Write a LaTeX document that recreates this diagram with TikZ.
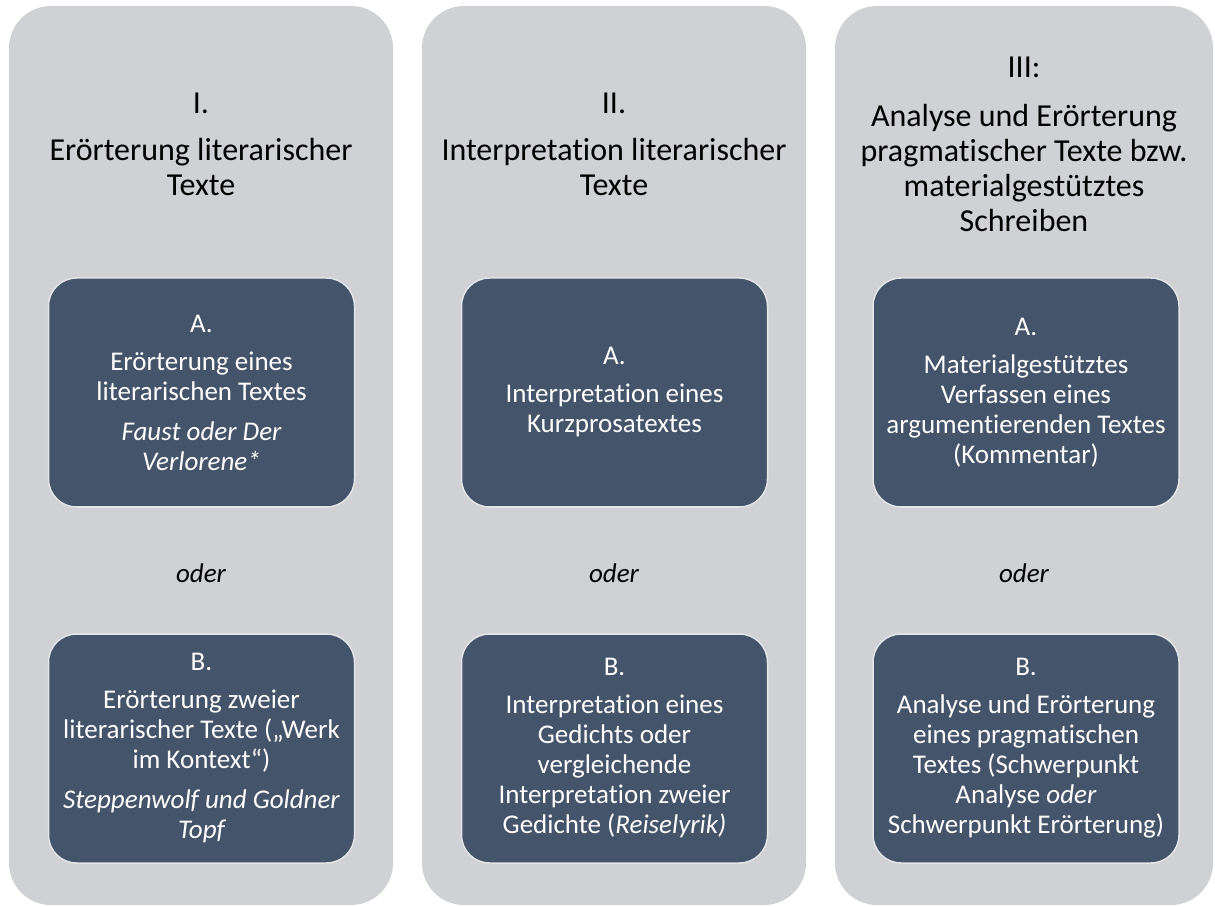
\documentclass[tikz,border=0pt]{standalone}
\usepackage{fontspec}
\setmainfont{Carlito}[Ligatures=NoCommon]
\definecolor{outerg}{HTML}{D0D1D5}
\definecolor{innerb}{HTML}{44546A}
\definecolor{boxline}{HTML}{E4E5E7}
\begin{document}
\begin{tikzpicture}[x=1pt,y=1pt,
  col/.style={draw=none, fill=outerg, rounded corners=42pt, minimum width=384pt, minimum height=899pt, inner sep=0pt},
  box/.style={fill=innerb, draw=boxline, line width=1.5pt, rounded corners=28pt, minimum width=306pt, minimum height=229pt, text=white, align=center, font=\fontsize{27}{30}\selectfont, inner sep=0pt},
  title/.style={align=center, font=\fontsize{32}{35}\selectfont, text=black},
  oder/.style={font=\fontsize{27}{30}\selectfont\itshape, text=black}]
\useasboundingbox (0,0) rectangle (1215,906);
% columns
\node[col] (c1) at (201,450.5) {};
\node[col] (c2) at (614,450.5) {};
\node[col, minimum width=378pt] (c3) at (1024,450.5) {};
% titles
\node[title] (t1) at (201,762) {I.\\[12pt]Erörterung literarischer\\Texte};
\node[title] (t2) at (614,762) {II.\\[12pt]Interpretation literarischer\\Texte};
\node[title] (t3) at (1024,762) {III:\\[14pt]Analyse und Erörterung\\pragmatischer Texte bzw.\\materialgestütztes\\Schreiben};
% A boxes
\node[box] (a1) at (201.5,513.5) {A.\\[8pt]Erörterung eines\\literarischen Textes\\[10pt]\itshape Faust oder Der\\\itshape Verlorene*};
\node[box] (a2) at (614.5,513.5) {A.\\[8pt]Interpretation eines\\Kurzprosatextes};
\node[box] (a3) at (1026,513.5) {A.\\[8pt]Materialgestütztes\\Verfassen eines\\argumentierenden Textes\\(Kommentar)};
% oder
\node[oder] (o1) at (201,333) {oder};
\node[oder] (o2) at (614,333) {oder};
\node[oder] (o3) at (1024,333) {oder};
% B boxes
\node[box] (b1) at (201.5,157.5) {B.\\[8pt]Erörterung zweier\\literarischer Texte („Werk\\im Kontext“)\\[10pt]\itshape Steppenwolf und Goldner\\\itshape Topf};
\node[box] (b2) at (614.5,157.5) {B.\\[8pt]Interpretation eines\\Gedichts oder\\vergleichende\\Interpretation zweier\\Gedichte (\textit{Reiselyrik)}};
\node[box] (b3) at (1026,157.5) {B.\\[8pt]Analyse und Erörterung\\eines pragmatischen\\Textes (Schwerpunkt\\Analyse \textit{oder}\\Schwerpunkt Erörterung)};
\end{tikzpicture}
\end{document}
